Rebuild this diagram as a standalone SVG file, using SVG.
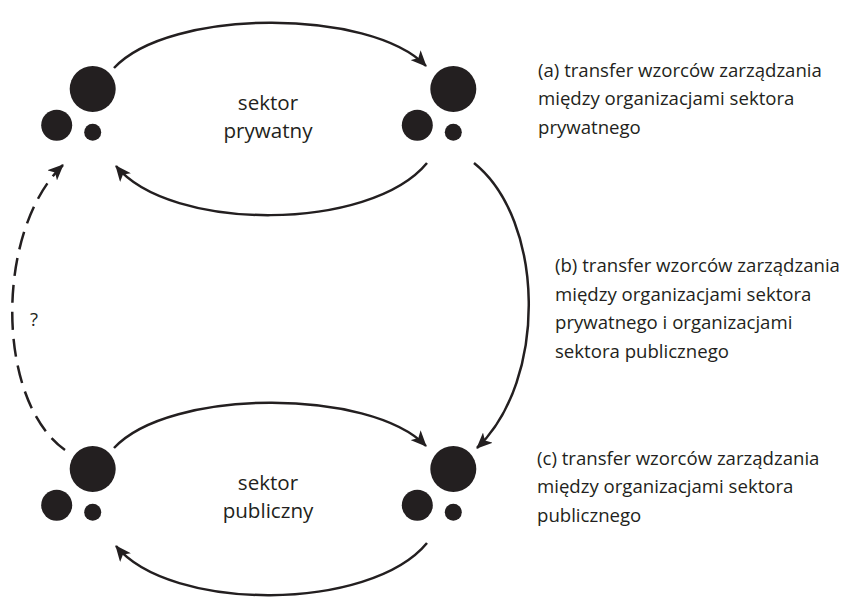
<svg xmlns="http://www.w3.org/2000/svg" width="844" height="597" viewBox="0 0 844 597">
  <style>
    .big { fill: #231f20; }
    .conn { fill: none; stroke: #231f20; stroke-width: 2.5; }
    .dash { stroke-dasharray: 18 9; }
    .lbl { font-family: "Open Sans", "Liberation Sans", sans-serif; font-size: 18.6px; fill: #231f20; }
    .sec { text-anchor: middle; font-size: 20.6px; }
  </style>
  <defs>
    <marker id="arrow" viewBox="0 0 16 14" refX="15" refY="7" markerWidth="16" markerHeight="14" markerUnits="userSpaceOnUse" orient="auto">
      <path d="M0,0 L16,7 L0,14 L4,7 Z" fill="#231f20"/>
    </marker>
    <g id="org">
      <circle cx="0" cy="0" r="23"/>
      <circle cx="-36" cy="36.3" r="15.5"/>
      <circle cx="0" cy="43.3" r="8.5"/>
    </g>
  </defs>

  <!-- organisation clusters -->
  <g id="priv-left" class="big"><use href="#org" x="92.7" y="89"/></g>
  <g id="priv-right" class="big"><use href="#org" x="453.3" y="89"/></g>
  <g id="pub-left" class="big"><use href="#org" x="92.7" y="469"/></g>
  <g id="pub-right" class="big"><use href="#org" x="453.3" y="469"/></g>

  <!-- connectors -->
  <g id="connectors">
    <path class="conn" d="M114,68 C170,8 370,8 426,66" marker-end="url(#arrow)"/>
    <path class="conn" d="M427,163 C370,232 170,232 116,166" marker-end="url(#arrow)"/>
    <path class="conn" d="M114,448 C170,388 370,388 426,446" marker-end="url(#arrow)"/>
    <path class="conn" d="M427,543 C370,612 170,612 116,546" marker-end="url(#arrow)"/>
    <path class="conn" d="M474,163 C545,220 548,380 477,448" marker-end="url(#arrow)"/>
    <path class="conn dash" d="M65,450 C-5,400 -5,230 63,165" marker-end="url(#arrow)"/>
  </g>

  <!-- sector labels -->
  <g id="sector-labels" class="lbl sec">
    <text x="268" y="110">sektor</text>
    <text x="268" y="137.5">prywatny</text>
    <text x="268" y="490">sektor</text>
    <text x="268" y="517.5">publiczny</text>
  </g>
  <text class="lbl" x="30" y="326">?</text>

  <!-- descriptions -->
  <g id="desc-a" class="lbl">
    <text x="538" y="76.5">(a) transfer wzorców zarządzania</text>
    <text x="538" y="105">między organizacjami sektora</text>
    <text x="538" y="133.5">prywatnego</text>
  </g>
  <g id="desc-b" class="lbl">
    <text x="555" y="272">(b) transfer wzorców zarządzania</text>
    <text x="555" y="300.5">między organizacjami sektora</text>
    <text x="555" y="329">prywatnego i organizacjami</text>
    <text x="555" y="357.5">sektora publicznego</text>
  </g>
  <g id="desc-c" class="lbl">
    <text x="537" y="464.5">(c) transfer wzorców zarządzania</text>
    <text x="537" y="493">między organizacjami sektora</text>
    <text x="537" y="521.5">publicznego</text>
  </g>
</svg>
